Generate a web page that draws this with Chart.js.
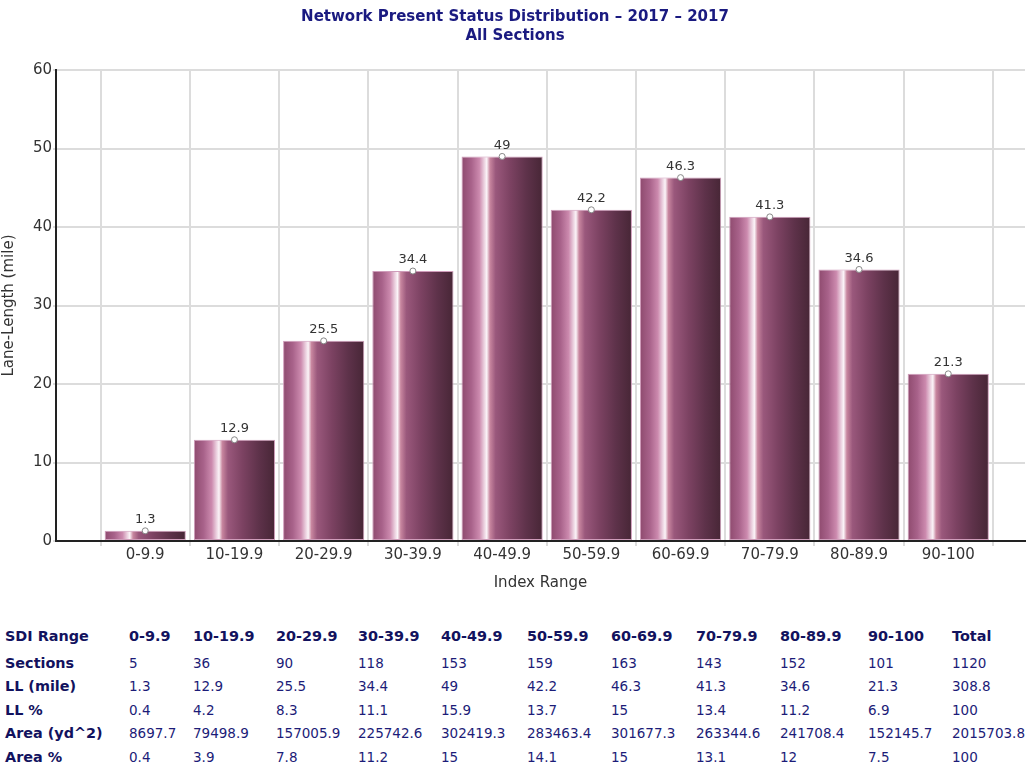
<!DOCTYPE html>
<html>
<head>
<meta charset="utf-8">
<script src="https://cdn.jsdelivr.net/npm/chart.js@4.4.0/dist/chart.umd.min.js"></script>
<style>
    body { margin: 0; background: #fff; width: 1030px; height: 766px; overflow: hidden; position: relative; }
    #chart-wrap { position: absolute; left: 0; top: 0; width: 1030px; height: 610px; }
    #stats { position: absolute; left: 5px; top: 621px; width: 1027px; border-collapse: collapse; table-layout: fixed;
             font-family: "DejaVu Sans", Verdana, sans-serif; font-size: 13.5px; color: #1c1c78; }
    #stats td { padding: 0; height: 23.5px; white-space: nowrap; text-align: left; }
    #stats tr.head td { height: 30px; font-weight: bold; font-size: 14.4px; color: #12125e; }
    #stats td.lbl { font-weight: bold; font-size: 14.4px; color: #12125e; }
</style>
</head>
<body>
<div id="chart-wrap"><canvas id="chart-bars"></canvas></div>
<table id="stats"></table>

<script>
const ranges = ["0-9.9", "10-19.9", "20-29.9", "30-39.9", "40-49.9", "50-59.9", "60-69.9", "70-79.9", "80-89.9", "90-100"];
const laneLength = [1.3, 12.9, 25.5, 34.4, 49, 42.2, 46.3, 41.3, 34.6, 21.3];
const sections = [5, 36, 90, 118, 153, 159, 163, 143, 152, 101];
const llPct = [0.4, 4.2, 8.3, 11.1, 15.9, 13.7, 15, 13.4, 11.2, 6.9];
const area = [8697.7, 79498.9, 157005.9, 225742.6, 302419.3, 283463.4, 301677.3, 263344.6, 241708.4, 152145.7];
const areaPct = [0.4, 3.9, 7.8, 11.2, 15, 14.1, 15, 13.1, 12, 7.5];
const totals = { sections: 1120, ll: 308.8, llPct: 100, area: 2015703.8, areaPct: 100 };
const yTicks = [0, 10, 20, 30, 40, 50, 60];

const BAR_RATIO = 0.91;
const AXIS_FONT = { family: '"DejaVu Sans", sans-serif', size: 15 };

// table under the chart
function buildTable() {
    const widths = [124, 64, 83, 82, 83, 86, 84, 85, 84, 88, 84, 80];
    let html = '<colgroup>' + widths.map(w => `<col style="width:${w}px">`).join('') + '</colgroup>';
    html += '<tr class="head"><td>SDI Range</td>' + ranges.map(r => `<td>${r}</td>`).join('') + '<td>Total</td></tr>';
    const rows = [
        ["Sections", sections, totals.sections],
        ["LL (mile)", laneLength, totals.ll],
        ["LL %", llPct, totals.llPct],
        ["Area (yd^2)", area, totals.area],
        ["Area %", areaPct, totals.areaPct]
    ];
    rows.forEach(r => {
        html += `<tr><td class="lbl">${r[0]}</td>` + r[1].map(v => `<td>${v}</td>`).join('') + `<td>${r[2]}</td></tr>`;
    });
    document.getElementById("stats").innerHTML = html;
}

function barGradient(context) {
    const chart = context.chart;
    if (!chart.chartArea || !context.raw) return '#7a4060';
    const xs = chart.scales.x;
    const cx = xs.getPixelForValue(context.raw.x);
    const half = (xs.getPixelForValue(1) - xs.getPixelForValue(0)) * BAR_RATIO / 2;
    const g = chart.ctx.createLinearGradient(cx - half, 0, cx + half, 0);
    g.addColorStop(0, '#8e4a6e');
    g.addColorStop(0.12, '#a8628a');
    g.addColorStop(0.22, '#cc8aae');
    g.addColorStop(0.28, '#ecd2e0');
    g.addColorStop(0.31, '#fbf4f8');
    g.addColorStop(0.35, '#c8869f');
    g.addColorStop(0.42, '#9a587c');
    g.addColorStop(0.6, '#7c4262');
    g.addColorStop(0.8, '#5e324a');
    g.addColorStop(1, '#472636');
    return g;
}

// value labels above the markers
const valueLabels = {
    id: 'valueLabels',
    afterDatasetsDraw(chart) {
        const ctx = chart.ctx;
        const meta = chart.getDatasetMeta(1);
        ctx.save();
        ctx.font = '13px "DejaVu Sans", sans-serif';
        ctx.fillStyle = '#333';
        ctx.textAlign = 'center';
        ctx.textBaseline = 'middle';
        meta.data.forEach((pt, i) => {
            ctx.fillText(String(laneLength[i]), pt.x, pt.y - 11);
        });
        ctx.restore();
    }
};

function drawChart() {
    const points = laneLength.map((v, i) => ({ x: i + 1, y: v }));
    const ctx = document.getElementById("chart-bars").getContext("2d");

    new Chart(ctx, {
        type: "bar",
        data: {
            datasets: [{
                label: "Lane-Length",
                data: points,
                backgroundColor: barGradient,
                borderColor: '#cf9cba',
                borderWidth: 1,
                borderSkipped: false,
                barPercentage: BAR_RATIO,
                categoryPercentage: 1,
                order: 2
            }, {
                type: "line",
                label: "points",
                data: points,
                showLine: false,
                pointRadius: 3,
                pointBackgroundColor: '#fff',
                pointBorderColor: '#888',
                pointBorderWidth: 1,
                order: 1
            }]
        },
        options: {
            responsive: true,
            maintainAspectRatio: false,
            animation: false,
            layout: { padding: { left: 0, right: 0, top: 0, bottom: 14 } },
            plugins: {
                legend: { display: false },
                tooltip: { enabled: false },
                title: {
                    display: true,
                    text: ["Network Present Status Distribution \u2013 2017 \u2013 2017", "All Sections"],
                    color: '#1a1a80',
                    font: { family: '"DejaVu Sans", sans-serif', size: 15, weight: 'bold', lineHeight: 1.27 },
                    padding: { top: 8, bottom: 24 }
                }
            },
            scales: {
                x: {
                    type: 'linear',
                    min: 0,
                    max: 10.86,
                    offset: false,
                    afterBuildTicks: s => { s.ticks = ranges.map((r, i) => ({ value: i + 1 })); },
                    grid: { color: '#dcdcdc', lineWidth: 2, tickLength: 5 },
                    border: { display: true, color: '#222', width: 2 },
                    ticks: {
                        autoSkip: false,
                        maxRotation: 0,
                        color: '#333',
                        font: AXIS_FONT,
                        padding: 0,
                        callback: v => ranges[v - 1]
                    },
                    title: {
                        display: true,
                        text: 'Index Range',
                        color: '#333',
                        font: AXIS_FONT,
                        padding: { top: 10 }
                    }
                },
                y: {
                    min: 0,
                    max: 60,
                    afterBuildTicks: s => { s.ticks = yTicks.map(v => ({ value: v })); },
                    afterFit: s => { s.width = 56; },
                    grid: { color: '#dcdcdc', lineWidth: 2, tickLength: 3 },
                    border: { display: true, color: '#222', width: 2 },
                    ticks: {
                        color: '#333',
                        padding: 1,
                        font: AXIS_FONT
                    },
                    title: {
                        display: true,
                        text: 'Lane-Length (mile)',
                        color: '#333',
                        font: AXIS_FONT,
                        padding: { top: 0, bottom: 0 }
                    }
                }
            }
        },
        plugins: [valueLabels]
    });
}

buildTable();
drawChart();
</script>
</body>
</html>
